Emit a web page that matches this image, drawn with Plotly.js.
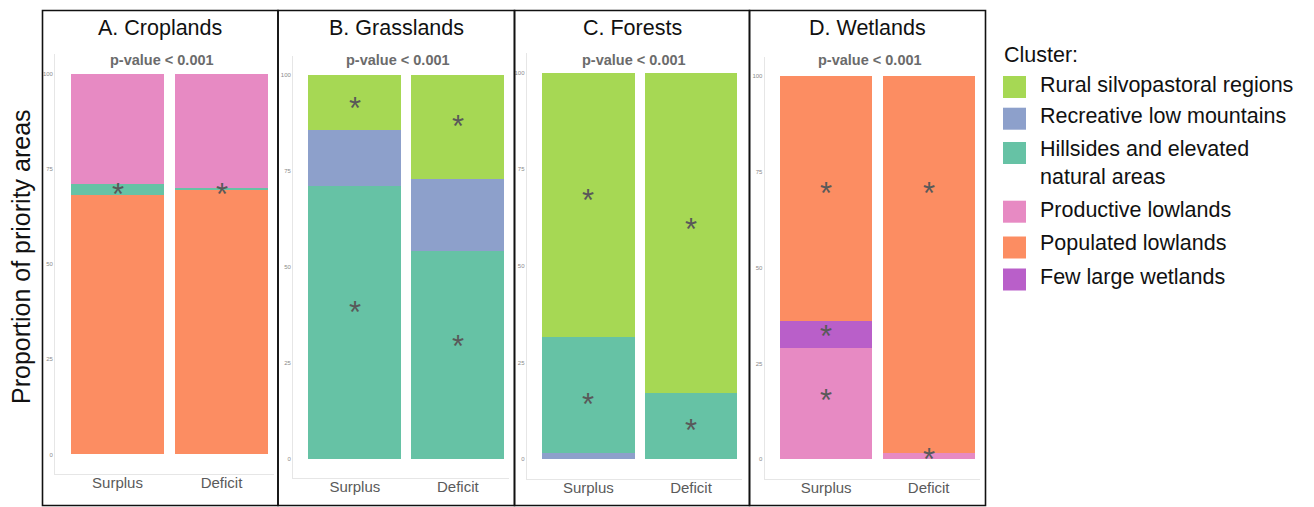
<!DOCTYPE html>
<html><head><meta charset="utf-8">
<script src="https://cdn.plot.ly/plotly-3.0.1.min.js"></script>
<style>html,body{margin:0;padding:0;background:#fff}#chart{width:1314px;height:507px}</style>
</head><body><div id="chart"></div>
<script>
// ---------- DATA ----------
const categories = ['Surplus', 'Deficit'];
const clusters = ['Rural silvopastoral regions', 'Recreative low mountains', 'Hillsides and elevated natural areas', 'Productive lowlands', 'Populated lowlands', 'Few large wetlands'];
const legendLabels = ['Rural silvopastoral regions', 'Recreative low mountains', 'Hillsides and elevated<br>natural areas', 'Productive lowlands', 'Populated lowlands', 'Few large wetlands'];
const clusterColors = ['#a6d854', '#8da0cb', '#66c2a5', '#e78ac3', '#fc8d62', '#b95fc9'];
const legendTitle = 'Cluster:';
const yAxisTitle = 'Proportion of priority areas';
const panelTitles = ['A. Croplands', 'B. Grasslands', 'C. Forests', 'D. Wetlands'];
const pValueLabels = ['p-value < 0.001', 'p-value < 0.001', 'p-value < 0.001', 'p-value < 0.001'];
const yTickVals = [0, 25, 50, 75, 100];

// stacking order bottom -> top, values [Surplus, Deficit] in %
const croplandsOrder = ['Populated lowlands', 'Hillsides and elevated natural areas', 'Productive lowlands'];
const croplandsValues = [[68.0, 69.4], [3.0, 0.6], [29.0, 30.0]];
const grasslandsOrder = ['Hillsides and elevated natural areas', 'Recreative low mountains', 'Rural silvopastoral regions'];
const grasslandsValues = [[71.1, 54.2], [14.6, 18.8], [14.3, 27.0]];
const forestsOrder = ['Recreative low mountains', 'Hillsides and elevated natural areas', 'Rural silvopastoral regions'];
const forestsValues = [[1.5, 0.0], [30.1, 17.2], [68.4, 82.8]];
const wetlandsOrder = ['Productive lowlands', 'Few large wetlands', 'Populated lowlands'];
const wetlandsValues = [[29.0, 1.6], [7.1, 0.0], [63.9, 98.4]];

// significance asterisks: category and height
const croplandsStarCat = ['Surplus', 'Deficit'];
const croplandsStarY = [69.4, 69.4];
const grasslandsStarCat = ['Surplus', 'Surplus', 'Deficit', 'Deficit'];
const grasslandsStarY = [92.5, 39.3, 87.6, 30.2];
const forestsStarCat = ['Surplus', 'Surplus', 'Deficit', 'Deficit'];
const forestsStarY = [68.1, 15.3, 60.6, 8.4];
const wetlandsStarCat = ['Surplus', 'Surplus', 'Surplus', 'Deficit', 'Deficit'];
const wetlandsStarY = [70.3, 33.0, 16.5, 70.3, 0.9];

// ---------- BUILD ----------
const W = 1314, H = 507;
const panels = [
  {order: croplandsOrder, values: croplandsValues, starCat: croplandsStarCat, starY: croplandsStarY},
  {order: grasslandsOrder, values: grasslandsValues, starCat: grasslandsStarCat, starY: grasslandsStarY},
  {order: forestsOrder, values: forestsValues, starCat: forestsStarCat, starY: forestsStarY},
  {order: wetlandsOrder, values: wetlandsValues, starCat: wetlandsStarCat, starY: wetlandsStarY}
];
// layout geometry in pixels (style)
const geom = [
  {x0: 55.1, x1: 273.5, y0: 54.45, y1: 473.55, f0: 42.5, f1: 278},
  {x0: 293.05, x1: 509.35, y0: 56.1, y1: 477.9, f0: 278, f1: 514.5},
  {x0: 526.76, x1: 742.3, y0: 53.4, y1: 478.6, f0: 514.5, f1: 749.5},
  {x0: 764.6, x1: 980, y0: 56.8, y1: 478.5, f0: 749.5, f1: 985.5}
];
const FONT = 'Liberation Sans, Arial, Helvetica, sans-serif';
const px = x => x / W;
const py = y => 1 - y / H;

const traces = [];
const layout = {
  width: W, height: H,
  margin: {l: 0, r: 0, t: 0, b: 0},
  paper_bgcolor: '#ffffff', plot_bgcolor: '#ffffff',
  barmode: 'stack', bargap: 0.1,
  showlegend: false,
  font: {family: FONT},
  shapes: [], annotations: []
};

panels.forEach((p, i) => {
  const n = i === 0 ? '' : String(i + 1);
  const g = geom[i];
  p.order.forEach((name, k) => {
    const ci = clusters.indexOf(name);
    traces.push({
      type: 'bar', x: categories, y: p.values[k], name: name,
      xaxis: 'x' + n, yaxis: 'y' + n,
      marker: {color: clusterColors[ci], line: {width: 0}},
      hoverinfo: 'name+y'
    });
  });
  layout['xaxis' + n] = {
    domain: [px(g.x0), px(g.x1)], anchor: 'y' + n, type: 'category',
    categoryorder: 'array', categoryarray: categories,
    range: [-0.6, 1.5], showgrid: false, zeroline: false,
    showline: true, linecolor: '#e6e6e6', linewidth: 1, ticks: '',
    ticklabelstandoff: -5,
    tickfont: {size: 15, color: '#5a5a5a', family: FONT}, fixedrange: true
  };
  layout['yaxis' + n] = {
    domain: [py(g.y1), py(g.y0)], anchor: 'x' + n,
    range: [-5, 105], tickvals: yTickVals, showgrid: false, zeroline: false,
    showline: true, linecolor: '#e6e6e6', linewidth: 1, ticks: '',
    tickfont: {size: 6, color: '#8a8a8a', family: FONT}, fixedrange: true
  };
  // frame
  layout.shapes.push({type: 'rect', xref: 'paper', yref: 'paper',
    x0: px(g.f0), x1: px(g.f1), y0: py(505.5), y1: py(10.5),
    line: {color: '#111111', width: 1.6}, fillcolor: 'rgba(0,0,0,0)'});
  // titles
  const cx = (g.f0 + g.f1) / 2;
  layout.annotations.push({xref: 'paper', yref: 'paper', x: px(cx), y: py(28),
    xanchor: 'center', yanchor: 'middle', showarrow: false, text: panelTitles[i],
    font: {size: 21.5, color: '#111111', family: FONT}});
  layout.annotations.push({xref: 'paper', yref: 'paper', x: px(cx + 2), y: py(60),
    xanchor: 'center', yanchor: 'middle', showarrow: false, text: '<b>' + pValueLabels[i] + '</b>',
    font: {size: 14.5, color: '#6b6b6b', family: FONT}});
  // asterisks
  p.starCat.forEach((c, k) => {
    layout.annotations.push({xref: 'x' + n, yref: 'y' + n, x: c, y: p.starY[k],
      xanchor: 'center', yanchor: 'middle', showarrow: false, text: '*', yshift: -4,
      font: {size: 31, color: '#595959', family: FONT}});
  });
});

// y axis title
layout.annotations.push({xref: 'paper', yref: 'paper', x: px(21), y: py(257),
  xanchor: 'center', yanchor: 'middle', showarrow: false, textangle: -90,
  text: yAxisTitle, font: {size: 25, color: '#111111', family: FONT}});

// legend (manual)
const legSquareY = [87, 118.7, 153, 211.7, 247.5, 279.5];
const legTextY = [85, 116, 163.3, 210, 243, 276.7];
layout.annotations.push({xref: 'paper', yref: 'paper', x: px(1002), y: py(55),
  xanchor: 'left', yanchor: 'middle', showarrow: false, text: legendTitle,
  font: {size: 21.5, color: '#111111', family: FONT}});
clusters.forEach((c, k) => {
  layout.shapes.push({type: 'rect', xref: 'paper', yref: 'paper',
    x0: px(1003), x1: px(1026), y0: py(legSquareY[k] + 11), y1: py(legSquareY[k] - 11),
    line: {width: 0}, fillcolor: clusterColors[k]});
  layout.annotations.push({xref: 'paper', yref: 'paper', x: px(1038), y: py(legTextY[k]),
    xanchor: 'left', yanchor: 'middle', align: 'left', showarrow: false, text: legendLabels[k],
    font: {size: 21.5, color: '#111111', family: FONT}});
});

Plotly.newPlot('chart', traces, layout, {displayModeBar: false, staticPlot: true});
</script>
</body></html>
